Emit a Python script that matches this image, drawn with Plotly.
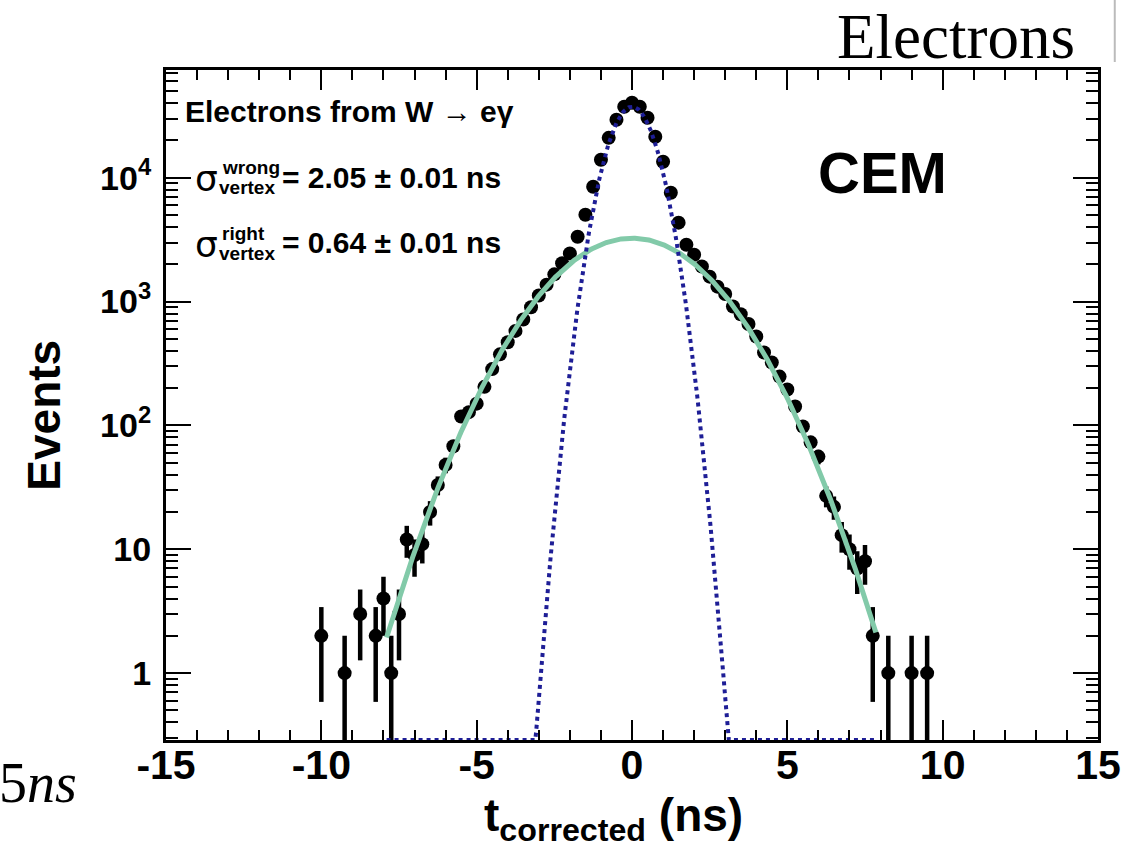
import numpy as np
import plotly.graph_objects as go

# ---------------- data ----------------
t_bins = [-10.0, -9.25, -8.75, -8.25, -8.0, -7.75, -7.5, -7.25, -7.0, -6.75,
          -6.5, -6.25, -6.0, -5.75, -5.5, -5.25, -5.0, -4.75, -4.5, -4.25,
          -4.0, -3.75, -3.5, -3.25, -3.0, -2.75, -2.5, -2.25, -2.0, -1.75,
          -1.5, -1.25, -1.0, -0.75, -0.5, -0.25, 0.0, 0.25, 0.5, 0.75,
          1.0, 1.25, 1.5, 1.75, 2.0, 2.25, 2.5, 2.75, 3.0, 3.25,
          3.5, 3.75, 4.0, 4.25, 4.5, 4.75, 5.0, 5.25, 5.5, 5.75,
          6.0, 6.25, 6.5, 6.75, 7.0, 7.25, 7.5, 7.75, 8.25, 9.0, 9.5]
events = [2, 1, 3, 2, 4, 1, 3, 12, 9, 11,
          20, 33, 48, 68, 118, 128, 150, 205, 285, 375,
          470, 580, 716, 900, 1120, 1370, 1660, 2040, 2450, 3340,
          5030, 8460, 13960, 21000, 29400, 37400, 40300, 37400, 30500, 21400,
          13450, 7570, 4340, 2880, 2390, 1920, 1590, 1320, 1150, 912,
          790, 660, 522, 388, 322, 248, 195, 142, 98, 73,
          56, 27, 22, 13, 10, 7, 8, 2, 1, 1, 1]

wrong_amp, wrong_sigma = 3250.0, 2.05
right_amp, right_sigma = 37500.0, 0.64
fit_lo, fit_hi = -7.9, 7.85

x_ticks = [-15, -10, -5, 0, 5, 10, 15]
y_ticks = [1, 10, 100, 1000, 10000]
y_ticktext = ["1", "10", "10<sup>2</sup>", "10<sup>3</sup>", "10<sup>4</sup>"]

# ---------------- derived ----------------
ev = np.array(events, dtype=float)
err = np.sqrt(ev)
err_minus = np.minimum(err, ev * 0.9999)

y_lo_log, y_hi_log = -0.54, 4.87
y_min = 10 ** y_lo_log

fx = np.linspace(fit_lo, fit_hi, 600)
wrong_curve = wrong_amp * np.exp(-fx ** 2 / (2 * wrong_sigma ** 2))
right_curve = np.maximum(right_amp * np.exp(-fx ** 2 / (2 * right_sigma ** 2)), y_min)

W, H = 1133, 855
L, R, T, B = 166, 1111, 70, 740

def px(xp):
    return (xp - L) / (R - L)

def py(yp):
    return (B - yp) / (B - T)

FONT = "Liberation Sans"

fig = go.Figure()
fig.add_trace(go.Scatter(
    x=t_bins, y=events, mode="markers",
    marker=dict(color="black", size=14),
    error_y=dict(type="data", array=err, arrayminus=err_minus,
                 color="black", thickness=4.5, width=0),
    showlegend=False))
fig.add_trace(go.Scatter(
    x=fx, y=wrong_curve, mode="lines",
    line=dict(color="#82caa9", width=5), showlegend=False))
fig.add_trace(go.Scatter(
    x=fx, y=right_curve, mode="lines",
    line=dict(color="#1e1e96", width=4, dash="dot"), showlegend=False))

fig.update_layout(
    width=W, height=H,
    margin=dict(l=L, r=W - R, t=T, b=H - B),
    paper_bgcolor="white", plot_bgcolor="white",
    font=dict(family=FONT, color="black"),
)
fig.update_xaxes(
    range=[-15, 15], tickvals=x_ticks, ticktext=[str(v) for v in x_ticks],
    ticks="inside", ticklen=20, tickwidth=2, tickcolor="black",
    minor=dict(dtick=1, ticks="inside", ticklen=10, tickwidth=2, tickcolor="black"),
    showline=True, linewidth=3, linecolor="black", mirror="allticks",
    showgrid=False, zeroline=False, ticklabelstandoff=-13,
    ticklabeloverflow="allow",
    tickfont=dict(family=FONT, size=41, weight="bold"),
)
fig.update_yaxes(
    type="log", range=[y_lo_log, y_hi_log],
    tickvals=y_ticks, ticktext=y_ticktext,
    ticks="inside", ticklen=25, tickwidth=2, tickcolor="black",
    minor=dict(dtick="D1", ticks="inside", ticklen=12, tickwidth=2, tickcolor="black"),
    showline=True, linewidth=3, linecolor="black", mirror="allticks",
    showgrid=False, zeroline=False, ticklabelstandoff=5,
    tickfont=dict(family=FONT, size=34, weight="bold"),
)

ann = []
def add(text, x, y, size, xanchor="left", yanchor="middle", family=FONT, angle=0):
    ann.append(dict(text=text, x=px(x), y=py(y), xref="paper", yref="paper",
                    xanchor=xanchor, yanchor=yanchor, showarrow=False,
                    textangle=angle, font=dict(family=family, size=size, color="black")))

add("<b>Electrons from W → eγ</b>", 183, 111, 30)
add("σ", 193, 179, 36, family="DejaVu Sans")
add("<b>wrong</b>", 221, 167, 19)
add("<b>vertex</b>", 218, 187, 19)
add("<b>= 2.05 ± 0.01 ns</b>", 282, 177, 30)
add("σ", 193, 245, 36, family="DejaVu Sans")
add("<b>right</b>", 221, 233, 19)
add("<b>vertex</b>", 218, 254, 19)
add("<b>= 0.64 ± 0.01 ns</b>", 282, 243, 30)
add("<b>CEM</b>", 892, 172, 58, xanchor="center")
add("<b>t<sub>corrected</sub> (ns)</b>", 620, 818, 46, xanchor="center")
add("<b>Events</b>", 42, 415, 46, xanchor="center", angle=-90)
add("Electrons", 1090, 37, 63, xanchor="right", family="Liberation Serif")
add("5<i>ns</i>", 78, 783, 56, xanchor="right", family="Liberation Serif")
fig.update_layout(annotations=ann)

fig.add_shape(type="line", xref="paper", yref="paper",
              x0=px(1128), x1=px(1128), y0=py(0), y1=py(62),
              line=dict(color="#bbbbbb", width=2))

fig.write_html("out.html")
